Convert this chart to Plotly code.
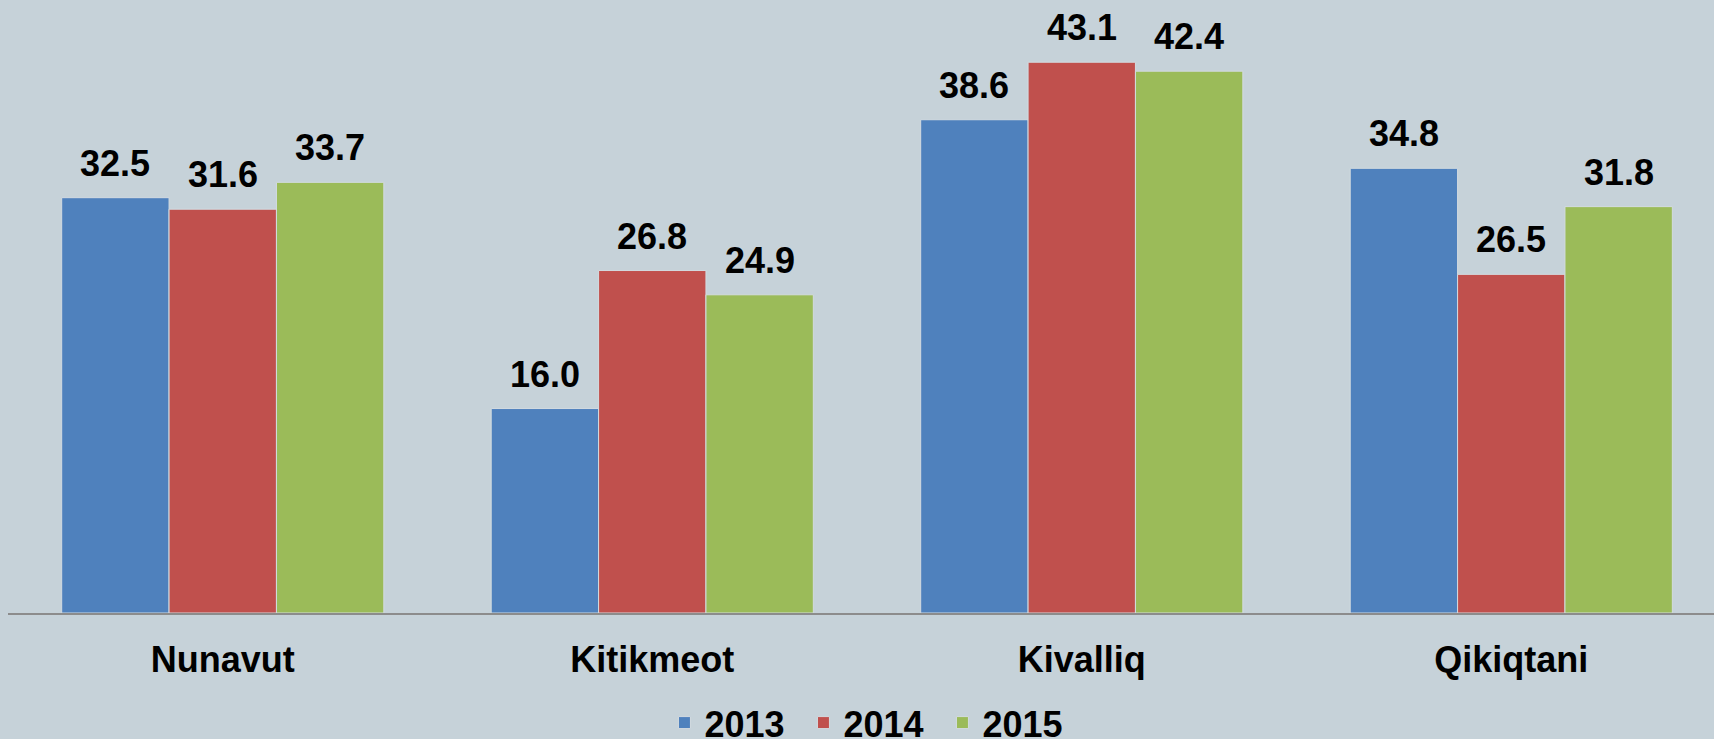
import plotly.graph_objects as go

# regions and yearly values
regions = ["Nunavut", "Kitikmeot", "Kivalliq", "Qikiqtani"]
years = ["2013", "2014", "2015"]
v2013 = [32.5, 16.0, 38.6, 34.8]
v2014 = [31.6, 26.8, 43.1, 26.5]
v2015 = [33.7, 24.9, 42.4, 31.8]

colors = ["#4f81bd", "#c0504d", "#9bbb59"]
BG = "#c6d2d9"
FONT = "Liberation Sans, Arial, sans-serif"

fig = go.Figure()
series = [v2013, v2014, v2015]
for yr, vals, col in zip(years, series, colors):
    fig.add_trace(go.Bar(
        name=yr, x=regions, y=vals,
        marker=dict(color=col, line=dict(color="#d3dbe0", width=1)),
    ))

# value labels sit a bit above each bar
bw = 0.25
for i, vals in enumerate(series):
    off = (i - 1) * bw
    for j, v in enumerate(vals):
        fig.add_annotation(
            x=j + off, y=v, text=f"{v:.1f}", showarrow=False,
            xref="x", yref="y", yanchor="bottom", yshift=12,
            font=dict(family=FONT, size=36, color="black", weight="bold"),
        )

fig.update_layout(
    width=1714, height=739,
    paper_bgcolor=BG, plot_bgcolor=BG,
    margin=dict(l=8, r=0, t=0, b=126, autoexpand=False),
    barmode="group", bargap=0.25, bargroupgap=0,
    font=dict(family=FONT, size=36, color="black", weight="bold"),
    showlegend=True,
    legend=dict(
        orientation="h", x=0.507, xanchor="center", y=-0.13, yanchor="top",
        font=dict(family=FONT, size=36, color="black", weight="bold"),
        bgcolor="rgba(0,0,0,0)", entrywidth=94, entrywidthmode="pixels",
    ),
    xaxis=dict(
        type="category", range=[-0.5, 3.472],
        showline=True, linecolor="#8c8c8c", linewidth=2,
        showgrid=False, ticks="", ticklabelstandoff=14,
        tickfont=dict(family=FONT, size=36, color="black", weight="bold"),
    ),
    yaxis=dict(
        range=[0, 47.97], visible=False, showgrid=False, zeroline=False,
    ),
)

fig.write_html("out.html", config={"displayModeBar": False},
               post_script="document.body.style.margin='0';")
